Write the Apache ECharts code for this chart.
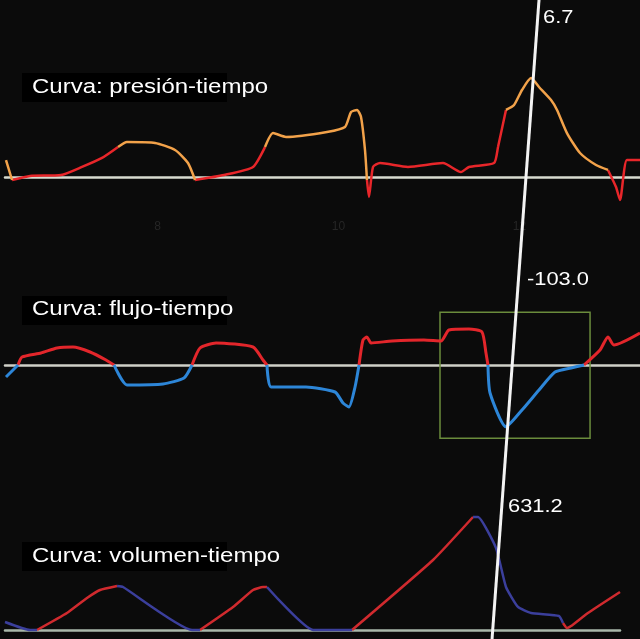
<!DOCTYPE html>
<html><head><meta charset="utf-8">
<script src="https://cdn.jsdelivr.net/npm/echarts@6/dist/echarts.min.js"></script>
<style>html,body{margin:0;padding:0;background:#0b0b0b}#c{width:640px;height:639px}</style>
</head><body><div id="c"></div>
<script>
// time in seconds
const pressureTime = [6.326,6.393,6.592,6.934,7.166,7.387,7.564,7.663,7.973,8.194,8.337,8.415,8.735,9.056,9.188,9.277,9.420,9.873,10.072,10.139,10.205,10.249,10.293,10.315,10.337,10.382,10.459,10.768,11.155,11.354,11.442,11.719,11.763,11.851,11.940,12.028,12.128,12.216,12.349,12.415,12.525,12.669,12.846,12.978,13.067,13.111,13.188,13.332];
const pressureValue = [1.13,-0.2,0.07,0.13,0.67,1.27,2.0,2.33,2.27,1.8,0.93,-0.2,0.13,0.67,2.0,2.93,2.67,3.0,3.33,4.33,4.47,4.0,1.8,-0.2,-1.33,0.67,0.93,0.67,0.93,0.33,0.67,0.93,2.0,4.47,4.8,5.8,6.6,6.0,5.13,4.47,2.93,1.6,0.8,0.47,-0.67,-1.53,1.13,1.13];
const pressureOrangeSpans = [[6.26,6.40],[7.50,8.42],[9.21,10.31],[11.85,12.98]];

const flowTime = [6.326,6.459,6.503,6.713,6.890,7.067,7.255,7.431,7.520,7.663,8.061,8.293,8.382,8.470,8.647,9.056,9.166,9.210,9.255,9.641,9.962,10.050,10.116,10.183,10.227,10.271,10.315,10.360,10.592,10.945,11.133,11.221,11.442,11.586,11.630,11.652,11.675,11.851,12.028,12.216,12.393,12.570,12.713,12.890,12.978,13.045,13.332];
const flowValue = [-20,0,13.3,20,28.3,30,21.7,8.3,0,-33.3,-31.7,-21.7,0,28.3,36.7,30,8.3,0,-36.7,-36.7,-45,-63.3,-70,-36.7,0,41.7,46.7,36.7,40,41.7,40,58.3,60,55,20,0,-46.7,-103,-75,-41.7,-11.7,-5,0,25,46.7,33.3,53.3];

const volumeTime = [6.315,6.592,6.669,7.000,7.221,7.365,7.553,7.619,8.382,8.470,8.835,9.056,9.166,9.210,9.719,10.150,11.045,11.487,11.542,11.741,11.851,11.984,12.128,12.437,12.481,12.525,12.570,12.757,13.111];
const volumeValue = [61.5,0,0,130.8,246,307.7,338.5,330.8,0,0,177,307.7,330.8,330.8,0,0,538.5,869,869,631,330.8,177,130.8,107.7,53.8,15,30.8,130.8,292.3];
const volumeInspSpans = [[6.66,7.56],[8.47,9.19],[10.15,11.50],[12.50,13.34]];

const cursorTime = [12.216, 11.697];
const curveTitles = ['Curva: presión-tiempo','Curva: flujo-tiempo','Curva: volumen-tiempo'];
const cursorReadouts = ['6.7','-103.0','631.2'];
const timeTicks = [8,10,12];

// split a curve into per-colour pieces (null breaks between runs)
function splitCurve(t, v, classify, keys){
  const out = {}; keys.forEach(k=>out[k]=[]);
  const last = {}; keys.forEach(k=>last[k]=-2);
  for(let i=0;i<t.length-1;i++){
    const k = classify(i);
    const arr = out[k];
    if(last[k]!==i){ if(arr.length) arr.push(null); arr.push([t[i],v[i]]); }
    arr.push([t[i+1],v[i+1]]);
    last[k]=i+1;
  }
  return out;
}
function inSpans(x, spans){ return spans.some(s=>x>=s[0]&&x<s[1]); }

const pSplit = splitCurve(pressureTime, pressureValue,
  i=>inSpans((pressureTime[i]+pressureTime[i+1])/2, pressureOrangeSpans)?'orange':'red', ['red','orange']);
const fSplit = splitCurve(flowTime, flowValue,
  i=>((flowValue[i]+flowValue[i+1])/2)<0?'neg':'pos', ['pos','neg']);
const vSplit = splitCurve(volumeTime, volumeValue,
  i=>inSpans((volumeTime[i]+volumeTime[i+1])/2, volumeInspSpans)?'insp':'exp', ['insp','exp']);

const chart = echarts.init(document.getElementById('c'));
const XMIN=6.315, XMAX=13.332;
function xa(g,max,lineColor,labels){
  return {gridIndex:g,type:'value',min:XMIN,max:max,
    axisLine:{show:true,onZero:true,lineStyle:{color:lineColor,width:2.5}},
    axisTick:{show:false},splitLine:{show:false},
    axisLabel:labels?{customValues:timeTicks,color:'#262626',fontSize:12,margin:14,fontFamily:'Liberation Sans'}:{show:false}};
}
function ya(g,min,max){return {gridIndex:g,type:'value',min:min,max:max,show:false,splitLine:{show:false}};}
const titleY=[87,309,556], boxY=[73,296,542];
const graphics=[];
curveTitles.forEach((t,i)=>{
  graphics.push({type:'rect',shape:{x:22,y:boxY[i],width:205,height:29},style:{fill:'#000'},z:10});
  graphics.push({type:'text',x:32,y:titleY[i],scaleX:1.2,style:{text:t,fill:'#ffffff',fontSize:20,fontFamily:'Liberation Sans',verticalAlign:'middle'},z:11});
});
const roX=[543,527,508], roY=[18,280,507];
cursorReadouts.forEach((t,i)=>{
  graphics.push({type:'text',x:roX[i],y:roY[i],scaleX:1.15,style:{text:t,fill:'#ffffff',fontSize:19,fontFamily:'Liberation Sans',verticalAlign:'middle'},z:11});
});
function ln(xi,data,color,width,smooth,extra){
  return Object.assign({type:'line',xAxisIndex:xi,yAxisIndex:xi,data:data,showSymbol:false,connectNulls:false,
    smooth:smooth,lineStyle:{color:color,width:width},itemStyle:{color:color},z:3,silent:true},extra||{});
}
chart.setOption({
  backgroundColor:'#0b0b0b',
  animation:false,
  grid:[
    {left:5,right:0,top:57,height:150},
    {left:5,right:0,top:311,height:129},
    {left:5,right:20,top:513,height:123.5},
    {left:0,right:0,top:0,bottom:0}
  ],
  xAxis:[xa(0,XMAX,'#d8dbd0',true),xa(1,XMAX,'#cfd0c8',false),xa(2,13.111,'#a9b8aa',false),
    {gridIndex:3,type:'value',min:6.26,max:13.332,show:false}],
  yAxis:[ya(0,-2,8),ya(1,-125,90),ya(2,-50,900),ya(3,0,1)],
  graphic:graphics,
  series:[
    ln(0,pSplit.red,'#e8262a',2.5,0.2),
    ln(0,pSplit.orange,'#f2a24a',2.5,0.2),
    ln(1,fSplit.pos,'#e3262b',3,0.2,{markArea:{silent:true,itemStyle:{color:'rgba(0,0,0,0)',borderColor:'#6b8c3c',borderWidth:1.5},
        data:[[{xAxis:11.122,yAxis:88},{xAxis:12.78,yAxis:-122}]]}}),
    ln(1,fSplit.neg,'#2d86d8',3,0.2),
    ln(2,vSplit.insp,'#d02a2e',2.5,0.15),
    ln(2,vSplit.exp,'#3b3f9c',2.5,0.15),
    {type:'line',xAxisIndex:3,yAxisIndex:3,data:[[cursorTime[0],1],[cursorTime[1],0]],showSymbol:false,lineStyle:{color:'#f4f4f4',width:3},z:6,silent:true}
  ]
});
</script></body></html>
